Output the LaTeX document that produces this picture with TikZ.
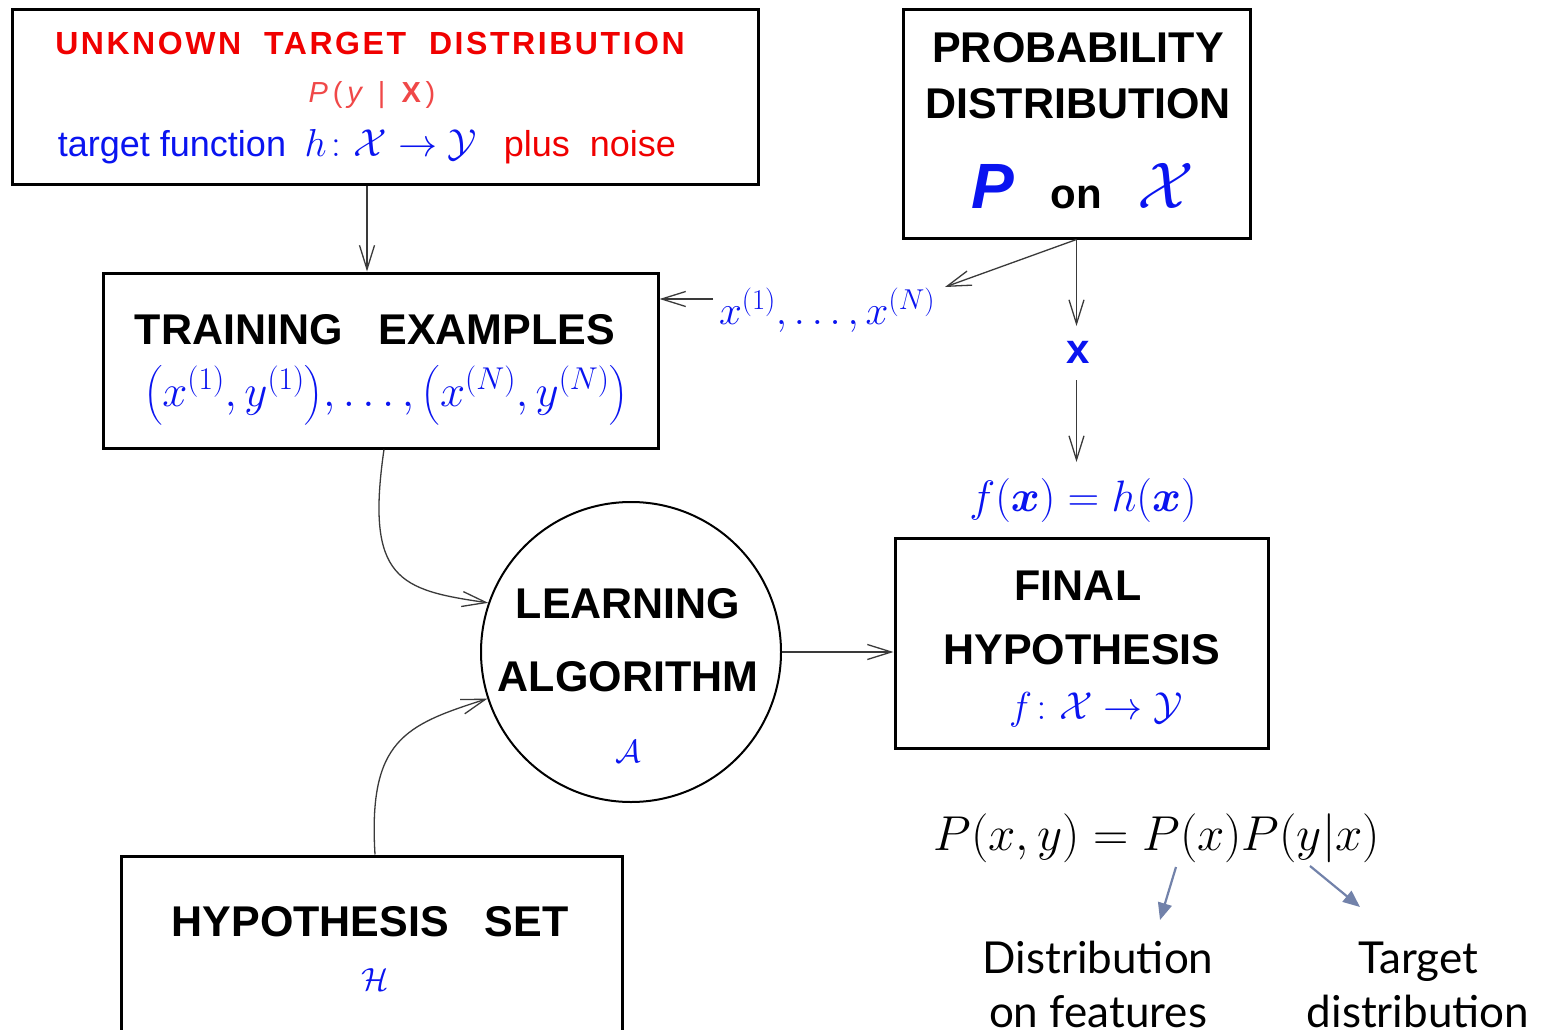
\RequirePackage{fix-cm}
\documentclass[tikz,border=0pt]{standalone}
\usepackage{amsmath}
\usepackage{fontspec}
\setmainfont{Liberation Sans}
\newfontfamily\gillfont{Lato}
\usetikzlibrary{arrows.meta}
\definecolor{myblue}{HTML}{0A14F0}
\definecolor{myred}{HTML}{F00000}
\definecolor{lightred}{HTML}{F04848}
\definecolor{slate}{HTML}{7282AA}
\definecolor{arrgrey}{HTML}{3A3A3A}
\newcommand\fsz[1]{\fontsize{#1}{#1}\selectfont}
\begin{document}
\begin{tikzpicture}[x=1pt,y=-1pt,
  box/.style={draw=black, line width=3pt, inner sep=0pt},
  lbl/.style={inner sep=0pt, outer sep=0pt},
  caps/.style={lbl, font=\fsz{43}\bfseries},
  arr/.style={draw=arrgrey, line width=1.3pt, -{Straight Barb[length=24pt,width=15pt,line width=1.3pt]}},
  parr/.style={draw=slate, line width=2.2pt, -{Triangle[length=17pt,width=14pt]}}
]
\useasboundingbox (0,0) rectangle (1545,1030);
\fill[white] (0,0) rectangle (1545,1030);

% boxes
\node[box, minimum width=746pt, minimum height=174pt] (b1) at (385,97) {};
\node[box, minimum width=347pt, minimum height=228pt] (b2) at (1076.5,124) {};
\node[box, minimum width=555pt, minimum height=175pt] (b3) at (380.5,360.5) {};
\node[box, minimum width=373pt, minimum height=210pt] (fh) at (1081.5,643) {};
\node[box, minimum width=501pt, minimum height=190pt] (hs) at (371.5,951) {};
\node[draw=black, line width=2pt, circle, minimum size=300pt, inner sep=0pt] (ca) at (631,652) {};

% box 1 texts
\node[lbl, text=myred, font=\fsz{32}\bfseries\addfontfeatures{LetterSpace=8}] (t1) at (370,43) {UNKNOWN\ \ TARGET\ \ DISTRIBUTION};
\node[lbl, text=lightred, font=\fsz{29}, anchor=base] (t2) at (372,103) {{\itshape P}\,(\,{\itshape y}\ \ |\ \ {\bfseries X}\,)};
\node[lbl, text=myblue, font=\fsz{36}, anchor=base] (t3) at (172,157) {target function};
\node[lbl, text=myblue, font=\fsz{39}, anchor=base] (t4) at (391,157) {$h\colon\mathcal{X}\to\mathcal{Y}$};
\node[lbl, text=myred, font=\fsz{36}, anchor=base] (t5) at (590,157) {plus\ \ noise};

% box 2 texts
\node[caps] (p1) at (1078,48) {PROBABILITY};
\node[caps] (p2) at (1078,104) {DISTRIBUTION};
\node[lbl, text=myblue, font=\fsz{64}\bfseries\itshape, anchor=base] (p3) at (993,208) {P};
\node[lbl, font=\fsz{42}\bfseries, anchor=base] (p4) at (1076,208) {on};
\node[lbl, text=myblue, font=\fsz{66}, anchor=base] (p5) at (1166,208) {$\mathcal{X}$};

% box 3 texts
\node[caps] (e1) at (375,330) {TRAINING\ \ \ EXAMPLES};
\node[lbl, text=myblue, font=\fsz{45}] (e2) at (386,395) {$\bigl(x^{(1)},y^{(1)}\bigr),\dots,\bigl(x^{(N)},y^{(N)}\bigr)$};

% labels along arrows
\node[lbl, text=myblue, font=\fsz{41}] (xs) at (827,310) {$x^{(1)},\dots,x^{(N)}$};
\node[lbl, text=myblue, font=\fsz{42}\bfseries] (xn) at (1078,352) {x};
\node[lbl, text=myblue, font=\fsz{44}] (fx) at (1083,500) {$f(\boldsymbol{x})=h(\boldsymbol{x})$};

% final hypothesis
\node[caps] (f1) at (1078,586) {FINAL};
\node[caps] (f2) at (1082,650) {HYPOTHESIS};
\node[lbl, text=myblue, font=\fsz{39}] (f3) at (1096,710) {$f\colon\mathcal{X}\to\mathcal{Y}$};

% learning algorithm
\node[caps] (l1) at (628,604) {LEARNING};
\node[caps] (l2) at (628,677) {ALGORITHM};
\node[lbl, text=myblue, font=\fsz{32}] (l3) at (628,752) {$\mathcal{A}$};

% hypothesis set
\node[caps] (h1) at (370,922) {HYPOTHESIS\ \ \ SET};
\node[lbl, text=myblue, font=\fsz{32}] (h2) at (375,980) {$\mathcal{H}$};

% formula and explanations
\node[lbl, font=\fsz{49}] (eq) at (1157,838) {$P(x,y)=P(x)P(y|x)$};
\node[lbl, font=\fsz{44}\gillfont, anchor=base] (d1a) at (1098,973) {Distribution};
\node[lbl, font=\fsz{44}\gillfont, anchor=base] (d1b) at (1098,1027) {on features};
\node[lbl, font=\fsz{44}\gillfont, anchor=base] (d2a) at (1418,973) {Target};
\node[lbl, font=\fsz{44}\gillfont, anchor=base] (d2b) at (1418,1027) {distribution};

% coordinates
\coordinate (xsTip) at (945,287);
\coordinate (xsTail) at (713,299);
\coordinate (xTop) at (1076.5,326);
\coordinate (xBot) at (1076.5,380);
\coordinate (fxTop) at (1076.5,462);
\coordinate (eqA) at (1176,867);
\coordinate (eqAend) at (1160,920);
\coordinate (eqB) at (1310,866);
\coordinate (eqBend) at (1360,907);

% connectors
\draw[arr] ([xshift=-18pt]b1.south) -- ([xshift=-13.5pt]b3.north);
\draw[arr] (b2.south) -- (xsTip);
\draw[arr] (xsTail) -- (xsTail -| b3.east);
\draw[arr] (b2.south) -- (xTop);
\draw[arr] (xBot) -- (fxTop);
\draw[arr] (ca.east) -- (ca.east -| fh.west);
\draw[arr] ([xshift=3.5pt]b3.south) .. controls (365,580) and (400,590) .. (ca.161);
\draw[arr] ([xshift=3.5pt]hs.north) .. controls (368,740) and (405,725) .. (ca.198);
\draw[parr] (eqA) -- (eqAend);
\draw[parr] (eqB) -- (eqBend);
\end{tikzpicture}
\end{document}
